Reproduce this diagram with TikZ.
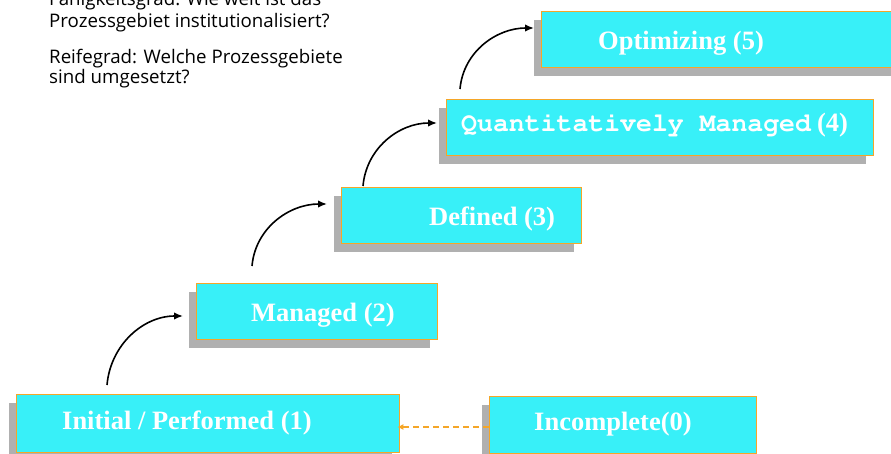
\documentclass[tikz,border=0pt]{standalone}
\usepackage[T1]{fontenc}
\usepackage{fontspec}
\setmainfont{Liberation Serif}
\newfontfamily\sansfont{Open Sans}
\newcommand{\courierbold}{\fontencoding{T1}\fontfamily{pcr}\fontseries{b}\selectfont}
\usetikzlibrary{arrows.meta,shadows}
\definecolor{boxcyan}{HTML}{38F0F8}
\definecolor{boxedge}{HTML}{F5A628}
\definecolor{shadowgray}{HTML}{B0B0B0}
\tikzset{
  stage/.style={draw=boxedge, line width=1.3pt, fill=boxcyan, inner sep=0pt, anchor=north west,
    drop shadow={shadow xshift=-8pt, shadow yshift=-8.5pt, fill=shadowgray, opacity=1}},
  lbl/.style={anchor=west, inner sep=0pt, text=white, font=\fontsize{26.5}{30}\selectfont\bfseries},
  note/.style={anchor=base west, inner sep=0pt, font=\sansfont\fontsize{18.7}{22}\selectfont, text=black},
  stepup/.style={-{Latex[length=9pt,width=7.5pt]}, line width=1.6pt, black},
}
\begin{document}
\begin{tikzpicture}[x=1pt,y=-1pt]
\useasboundingbox (0,0) rectangle (891,454);
% notes
\node[note] (n1) at (49,6) {Fähigkeitsgrad: Wie weit ist das};
\node[note] (n2) at (49,28) {Prozessgebiet institutionalisiert?};
\node[note] (n3) at (49,64) {Reifegrad: Welche Prozessgebiete};
\node[note] (n4) at (49,84) {sind umgesetzt?};
% boxes
\node[stage, minimum width=383pt, minimum height=58pt] (b1) at (16,394) {};
\node[stage, minimum width=267pt, minimum height=57pt] (b0) at (489,396) {};
\node[stage, minimum width=241pt, minimum height=56pt] (b2) at (196,283) {};
\node[stage, minimum width=240pt, minimum height=56pt] (b3) at (341,187) {};
\node[stage, minimum width=427pt, minimum height=56pt] (b4) at (446,99) {};
\node[stage, minimum width=375pt, minimum height=56pt] (b5) at (541,11) {};
% labels
\node[lbl] (t1) at (62,423) {Initial / Performed (1)};
\node[lbl] (t0) at (534,424) {Incomplete(0)};
\node[lbl] (t2) at (251,315) {Managed (2)};
\node[lbl] (t3) at (429,219) {Defined (3)};
\node[lbl] (t4) at (461,125) {{\courierbold Quantitatively Managed}\hspace{6pt}(4)};
\node[lbl] (t5) at (598,43) {Optimizing (5)};
% connectors
\coordinate (s1) at (107,385); \coordinate (e1) at (183,316);
\coordinate (s2) at (252,266); \coordinate (e2) at (327,204);
\coordinate (s3) at (363,186); \coordinate (e3) at (437,123);
\coordinate (s4) at (460,89);  \coordinate (e4) at (534,28);
\draw[stepup] (s1) to[out=85,in=180] (e1);
\draw[stepup] (s2) to[out=85,in=180] (e2);
\draw[stepup] (s3) to[out=85,in=180] (e3);
\draw[stepup] (s4) to[out=85,in=180] (e4);
\draw[boxedge, line width=1.3pt, dash pattern=on 6pt off 4pt, -{Latex[length=6pt,width=6pt]}]
  (b0.west |- 0,427) -- ([xshift=-3pt]b1.east |- 0,427);
\end{tikzpicture}
\end{document}
